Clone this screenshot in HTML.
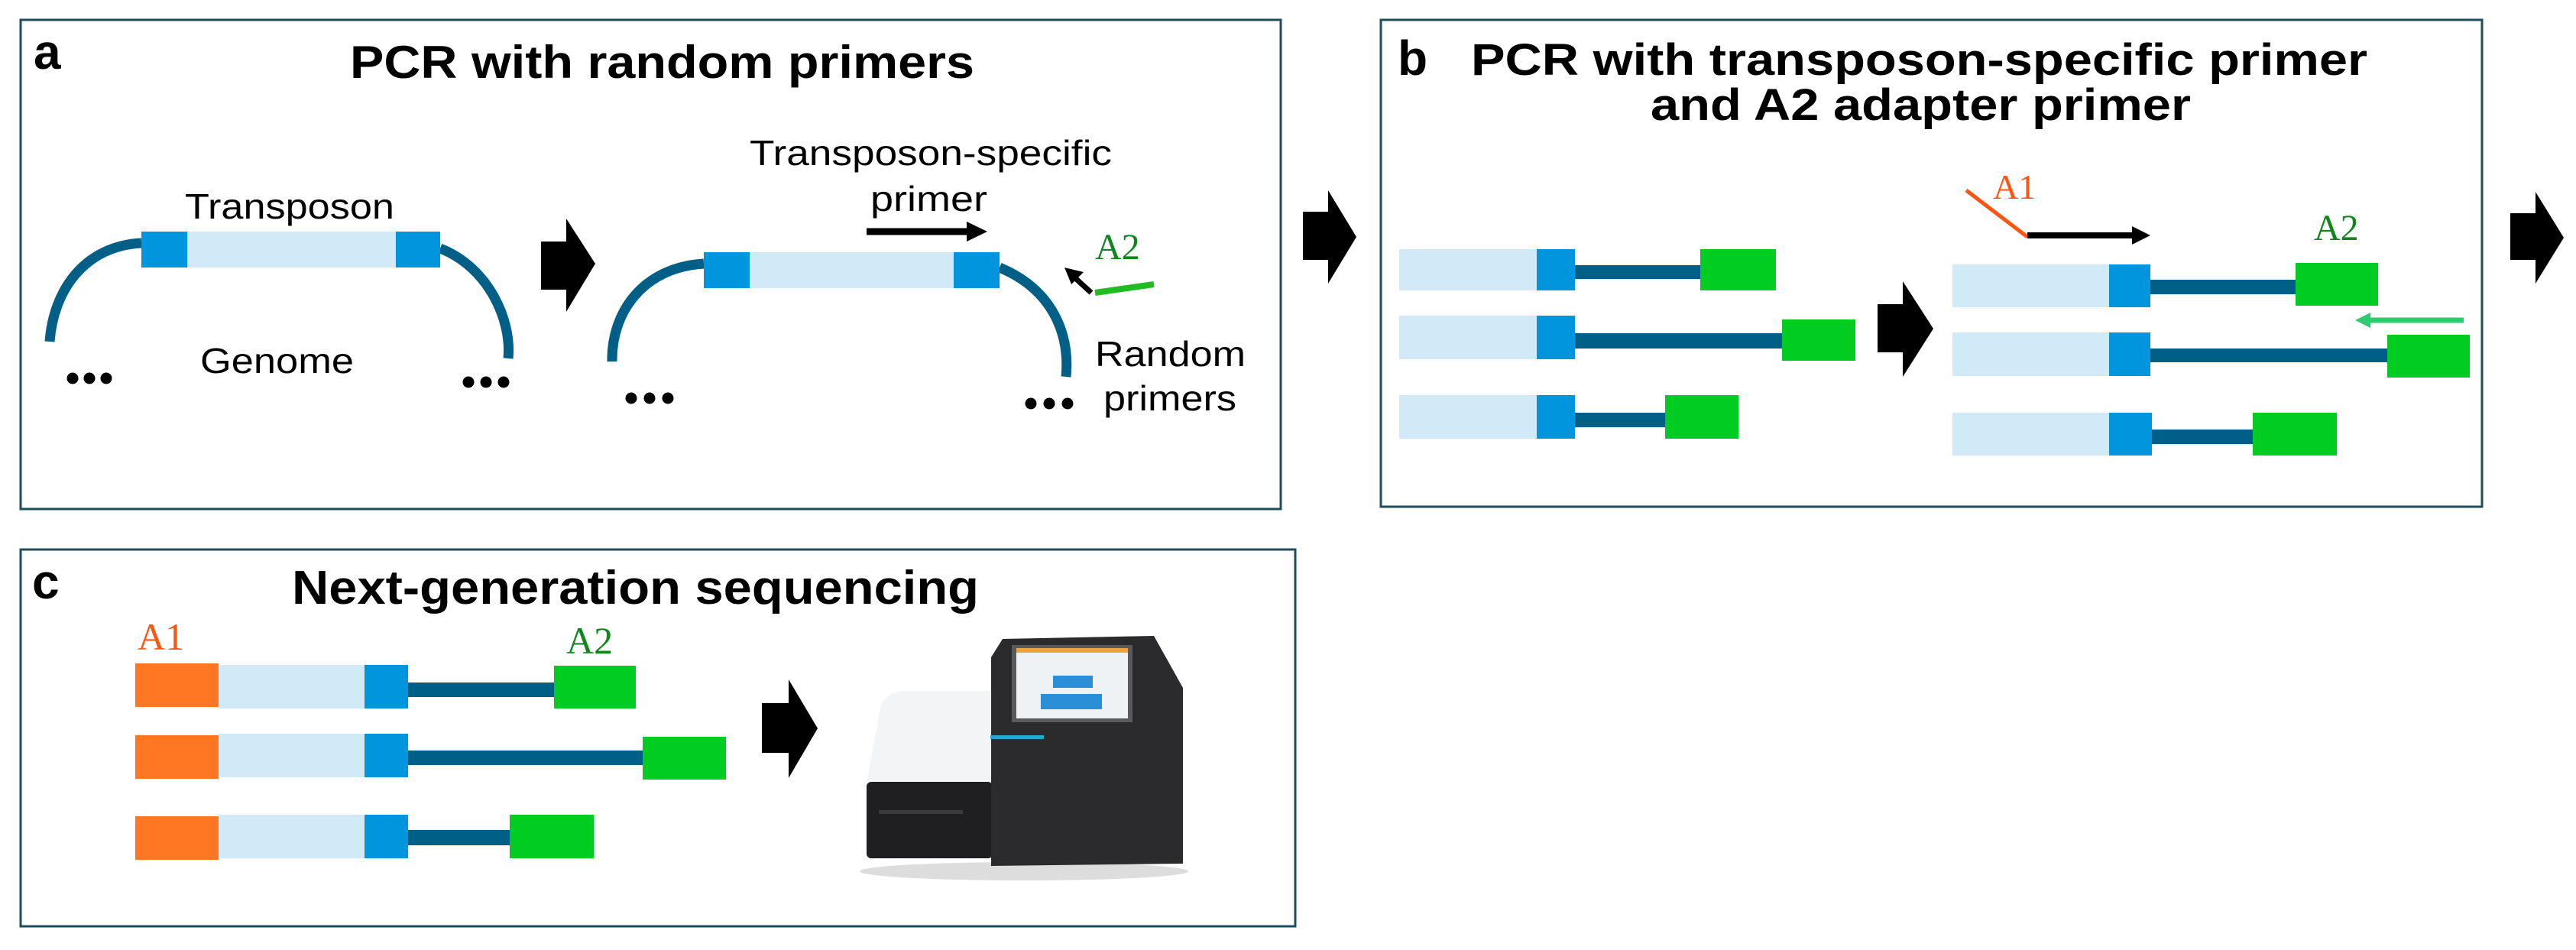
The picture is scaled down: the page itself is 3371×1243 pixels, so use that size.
<!DOCTYPE html>
<html><head><meta charset="utf-8"><style>
html,body{margin:0;padding:0;background:#fff;}
svg{display:block;}
.t{font-family:"Liberation Sans",Arial,sans-serif;}
.s{font-family:"Liberation Serif","Times New Roman",serif;}
</style></head><body>
<svg width="3371" height="1243" viewBox="0 0 3371 1243" xmlns="http://www.w3.org/2000/svg">
<!-- Panel boxes -->
<rect x="27" y="26" width="1649" height="640" fill="none" stroke="#1e4d5c" stroke-width="3"/>
<rect x="1807" y="26" width="1441" height="637" fill="none" stroke="#1e4d5c" stroke-width="3"/>
<rect x="27" y="719" width="1668" height="493" fill="none" stroke="#1e4d5c" stroke-width="3"/>

<!-- Panel a -->
<text class="t" x="44" y="90" font-size="64" font-weight="bold">a</text>
<text class="t" x="458" y="102" font-size="60" font-weight="bold" textLength="817" lengthAdjust="spacingAndGlyphs">PCR with random primers</text>
<path d="M65,447 C70,380 110,322 185,318" fill="none" stroke="#005f87" stroke-width="13"/>
<path d="M576,325 C640,350 670,420 665,469" fill="none" stroke="#005f87" stroke-width="13"/>
<rect x="185" y="303" width="391" height="47" fill="#d0eaf8"/>
<rect x="185" y="303" width="60" height="47" fill="#0095dd"/>
<rect x="518" y="303" width="58" height="47" fill="#0095dd"/>
<text class="t" x="242" y="286" font-size="46" textLength="274" lengthAdjust="spacingAndGlyphs">Transposon</text>
<text class="t" x="262" y="488" font-size="46" textLength="201" lengthAdjust="spacingAndGlyphs">Genome</text>
<g fill="#000">
<circle cx="95" cy="495" r="7.5"/><circle cx="117" cy="495" r="7.5"/><circle cx="139" cy="495" r="7.5"/>
<circle cx="613" cy="500" r="7.5"/><circle cx="636" cy="500" r="7.5"/><circle cx="659" cy="500" r="7.5"/>
<circle cx="826" cy="521" r="7.5"/><circle cx="850" cy="521" r="7.5"/><circle cx="874" cy="521" r="7.5"/>
<circle cx="1349" cy="528" r="7.5"/><circle cx="1373" cy="528" r="7.5"/><circle cx="1397" cy="528" r="7.5"/>
</g>
<polygon points="708,316 741,316 741,286 779,345 741,408 741,379 708,379" fill="#000"/>
<path d="M801,473 C800,410 840,350 921,345" fill="none" stroke="#005f87" stroke-width="13"/>
<path d="M1308,350 C1380,380 1400,440 1395,493" fill="none" stroke="#005f87" stroke-width="13"/>
<rect x="921" y="330" width="387" height="47" fill="#d0eaf8"/>
<rect x="921" y="330" width="60" height="47" fill="#0095dd"/>
<rect x="1248" y="330" width="60" height="47" fill="#0095dd"/>
<text class="t" x="981" y="216" font-size="46" textLength="474" lengthAdjust="spacingAndGlyphs">Transposon-specific</text>
<text class="t" x="1139" y="276" font-size="46" textLength="153" lengthAdjust="spacingAndGlyphs">primer</text>
<line x1="1134" y1="303" x2="1270" y2="303" stroke="#000" stroke-width="9"/>
<polygon points="1265,290 1292,303 1265,316" fill="#000"/>
<text class="s" x="1433" y="339" font-size="48" fill="#11861d">A2</text>
<line x1="1433" y1="383" x2="1510" y2="372" stroke="#22bb22" stroke-width="8"/>
<line x1="1428" y1="383" x2="1405" y2="362" stroke="#000" stroke-width="7"/>
<polygon points="1393,350 1418,356 1402,372" fill="#000"/>
<text class="t" x="1433" y="479" font-size="46" textLength="197" lengthAdjust="spacingAndGlyphs">Random</text>
<text class="t" x="1444" y="537" font-size="46" textLength="174" lengthAdjust="spacingAndGlyphs">primers</text>

<!-- arrows between a-b and after b -->
<polygon points="1705,277 1738,277 1738,249 1775,310 1738,371 1738,340 1705,340" fill="#000"/>
<polygon points="3285,279 3318,279 3318,251 3355,311 3318,371 3318,340 3285,340" fill="#000"/>

<!-- Panel b -->
<text class="t" x="1829" y="98" font-size="64" font-weight="bold">b</text>
<text class="t" x="1925" y="98" font-size="58" font-weight="bold" textLength="1173" lengthAdjust="spacingAndGlyphs">PCR with transposon-specific primer</text>
<text class="t" x="2160" y="157" font-size="58" font-weight="bold" textLength="707" lengthAdjust="spacingAndGlyphs">and A2 adapter primer</text>
<rect x="1831" y="326" width="180" height="54" fill="#d0eaf8"/><rect x="2011" y="326" width="50" height="54" fill="#0095dd"/>
<rect x="2061" y="347" width="164" height="18" fill="#005f87"/><rect x="2225" y="326" width="99" height="54" fill="#00cc22"/>
<rect x="1831" y="413" width="180" height="57" fill="#d0eaf8"/><rect x="2011" y="413" width="50" height="57" fill="#0095dd"/>
<rect x="2061" y="436" width="271" height="20" fill="#005f87"/><rect x="2332" y="418" width="96" height="54" fill="#00cc22"/>
<rect x="1831" y="517" width="180" height="57" fill="#d0eaf8"/><rect x="2011" y="517" width="50" height="57" fill="#0095dd"/>
<rect x="2061" y="540" width="118" height="19" fill="#005f87"/><rect x="2179" y="517" width="96" height="57" fill="#00cc22"/>
<polygon points="2457,398 2490,398 2490,368 2530,430 2490,493 2490,461 2457,461" fill="#000"/>
<rect x="2555" y="346" width="205" height="56" fill="#d0eaf8"/><rect x="2760" y="346" width="54" height="56" fill="#0095dd"/>
<rect x="2814" y="366" width="190" height="19" fill="#005f87"/><rect x="3004" y="344" width="108" height="56" fill="#00cc22"/>
<rect x="2555" y="435" width="205" height="57" fill="#d0eaf8"/><rect x="2760" y="435" width="54" height="57" fill="#0095dd"/>
<rect x="2814" y="456" width="310" height="18" fill="#005f87"/><rect x="3124" y="438" width="108" height="56" fill="#00cc22"/>
<rect x="2555" y="540" width="205" height="56" fill="#d0eaf8"/><rect x="2760" y="540" width="56" height="56" fill="#0095dd"/>
<rect x="2816" y="562" width="132" height="19" fill="#005f87"/><rect x="2948" y="540" width="110" height="56" fill="#00cc22"/>
<line x1="3224" y1="419" x2="3100" y2="419" stroke="#2ecc71" stroke-width="7"/>
<polygon points="3082,419 3102,409 3102,429" fill="#2ecc71"/>
<text class="s" x="3028" y="314" font-size="48" fill="#11861d">A2</text>
<text class="s" x="2608" y="260" font-size="46" fill="#ff5511">A1</text>
<line x1="2573" y1="249" x2="2653" y2="310" stroke="#ff5511" stroke-width="5"/>
<line x1="2653" y1="308" x2="2795" y2="308" stroke="#000" stroke-width="8"/>
<polygon points="2790,296 2814,308 2790,320" fill="#000"/>

<!-- Panel c -->
<text class="t" x="42" y="783" font-size="64" font-weight="bold">c</text>
<text class="t" x="382" y="790" font-size="62" font-weight="bold" textLength="899" lengthAdjust="spacingAndGlyphs">Next-generation sequencing</text>
<text class="s" x="180" y="850" font-size="50" fill="#ff5511">A1</text>
<text class="s" x="741" y="855" font-size="50" fill="#11861d">A2</text>
<rect x="177" y="868" width="109" height="57" fill="#ff7722"/><rect x="286" y="870" width="191" height="57" fill="#d0eaf8"/><rect x="477" y="870" width="57" height="57" fill="#0095dd"/>
<rect x="534" y="893" width="191" height="19" fill="#005f87"/><rect x="725" y="871" width="107" height="56" fill="#00cc22"/>
<rect x="177" y="962" width="109" height="57" fill="#ff7722"/><rect x="286" y="960" width="191" height="57" fill="#d0eaf8"/><rect x="477" y="960" width="57" height="57" fill="#0095dd"/>
<rect x="534" y="982" width="307" height="19" fill="#005f87"/><rect x="841" y="964" width="109" height="56" fill="#00cc22"/>
<rect x="177" y="1068" width="109" height="57" fill="#ff7722"/><rect x="286" y="1066" width="191" height="57" fill="#d0eaf8"/><rect x="477" y="1066" width="57" height="57" fill="#0095dd"/>
<rect x="534" y="1086" width="133" height="20" fill="#005f87"/><rect x="667" y="1066" width="110" height="57" fill="#00cc22"/>
<polygon points="997,920 1032,920 1032,889 1070,953 1032,1018 1032,985 997,985" fill="#000"/>
<!-- sequencer -->
<ellipse cx="1340" cy="1140" rx="215" ry="12" fill="#ddd"/>
<path d="M1150,940 C1150,920 1160,905 1185,904 L1297,904 L1297,1023 L1134,1023 Z" fill="#f3f4f5"/>
<rect x="1134" y="1023" width="165" height="100" rx="6" fill="#1f1f21"/>
<rect x="1150" y="1060" width="110" height="5" fill="#3a3a3d"/>
<path d="M1312,836 L1510,832 L1548,900 L1548,1130 L1297,1133 L1297,860 Z" fill="#2b2b2d"/>
<rect x="1324" y="844" width="158" height="101" fill="#5a5a5c"/>
<rect x="1330" y="848" width="146" height="92" fill="#eef2f5"/>
<rect x="1330" y="848" width="146" height="6" fill="#f2a23a"/>
<rect x="1378" y="884" width="52" height="16" fill="#2b8fd8"/>
<rect x="1362" y="908" width="80" height="20" fill="#2b8fd8"/>
<rect x="1296" y="962" width="70" height="5" fill="#22aacc"/>
</svg>
</body></html>
